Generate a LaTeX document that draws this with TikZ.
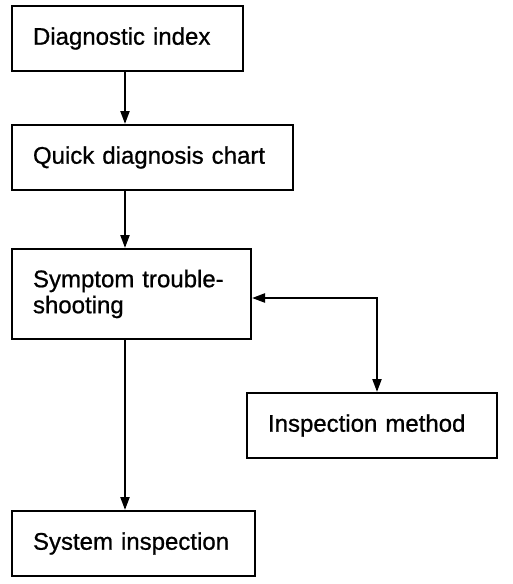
\documentclass[tikz,border=0pt]{standalone}
\usepackage{fontspec}
\setmainfont{Liberation Sans}
\newfontfamily\boxfont{Liberation Sans}[FakeBold=0.8]
\usepackage{tikz}
\usetikzlibrary{arrows.meta}

\begin{document}
\begin{tikzpicture}[x=1pt, y=1pt,
  box/.style={draw, line width=2, inner xsep=21, align=left,
              minimum height=65, font=\boxfont\fontsize{24}{26}\selectfont},
  arr/.style={line width=2.2, -{Triangle[length=13, width=9]}}]

  \useasboundingbox (0, 0) rectangle (512, -584);

  \node[box, text width=189] (index)   at (127.5, -38.5) {Diagnostic index};
  \node[box, text width=239] (quick)   at (152.5, -157.5) {Quick diagnosis chart};
  \node[box, text width=197, minimum height=90] (trouble) at (131.5, -294) {Symptom trouble-\\shooting};
  \node[box, text width=208] (method)  at (372, -425.5) {Inspection method};
  \node[box, text width=201] (system)  at (133.5, -543.5) {System inspection};

  \coordinate (spine) at (125, 0);
  \coordinate (bend) at (377, -298);

  \draw[arr] (index.south -| spine) -- (quick.north -| spine);
  \draw[arr] (quick.south -| spine) -- (trouble.north -| spine);
  \draw[arr] (trouble.south -| spine) -- (system.north -| spine);
  \draw[arr, {Triangle[length=13, width=9]}-{Triangle[length=13, width=9]}]
    (trouble.east |- bend) -- (bend) -- (method.north -| bend);

\end{tikzpicture}
\end{document}
